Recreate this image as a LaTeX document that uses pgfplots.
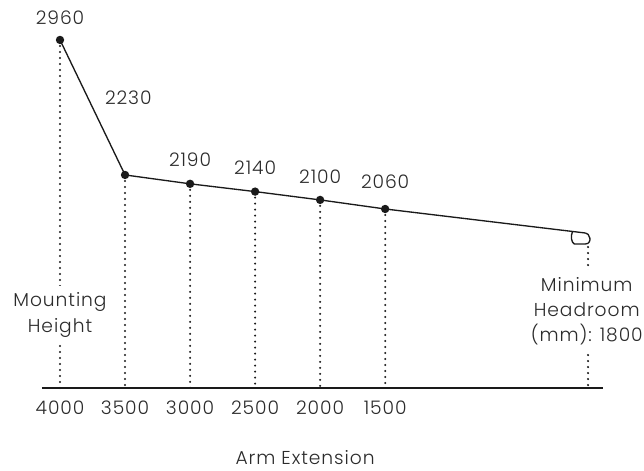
\documentclass[border=0pt]{standalone}
\usepackage{fontspec}
\setmainfont{Poppins}[UprightFont=* Light, LetterSpace=5]
\usepackage{pgfplots}
\pgfplotsset{compat=1.18}

\definecolor{ink}{HTML}{1A1A1A}
\definecolor{txt}{HTML}{2B2B2B}

% small lamp shape at the end of the arm
\pgfdeclareplotmark{lamp}{%
  \pgfpathmoveto{\pgfpoint{-9.75pt}{1.1pt}}%
  \pgfpathcurveto{\pgfpoint{-11.25pt}{-2.25pt}}{\pgfpoint{-10.5pt}{-7.5pt}}{\pgfpoint{-8.25pt}{-8.25pt}}%
  \pgfpathlineto{\pgfpoint{0pt}{-8.25pt}}%
  \pgfpathcurveto{\pgfpoint{3pt}{-8.25pt}}{\pgfpoint{3.75pt}{-5.25pt}}{\pgfpoint{3.3pt}{-3.75pt}}%
  \pgfpathcurveto{\pgfpoint{2.7pt}{-1.5pt}}{\pgfpoint{1.5pt}{0pt}}{\pgfpoint{0pt}{0pt}}%
  \pgfusepathqstroke}

\tikzset{
  drop/.style={ink, line width=1.7pt, line cap=round, dash pattern=on 0pt off 4.5pt},
  val/.style={text=txt, font=\fontsize{14}{19}\selectfont, inner sep=1pt},
}

\begin{document}
\begin{tikzpicture}
\begin{axis}[
  scale only axis,
  width=420.75pt, height=291pt,
  xmin=-0.277, xmax=8.35,
  ymin=1078, ymax=3176,
  axis x line*=bottom,
  axis y line=none,
  x axis line style={ink, line width=1pt, -},
  xtick={0,1,2,3,4,5},
  xticklabels={4000,3500,3000,2500,2000,1500},
  major tick length=0pt,
  /pgf/number format/assume math mode=true,
  xticklabel style={text=txt, font=\fontsize{14}{19}\selectfont, anchor=center, yshift=-15pt},
  xlabel={Arm Extension},
  xlabel style={at={(axis description cs:0.469,0)}, anchor=center, yshift=-52.5pt,
    text=txt, font=\fontsize{14}{19}\selectfont},
  clip=false,
]
% dotted drops to the base line
\addplot[drop] coordinates {(0,2960) (0,1078)};
\addplot[drop] coordinates {(1,2230) (1,1078)};
\addplot[drop] coordinates {(2,2182) (2,1078)};
\addplot[drop] coordinates {(3,2140) (3,1078)};
\addplot[drop] coordinates {(4,2095) (4,1078)};
\addplot[drop] coordinates {(5,2046) (5,1078)};
\addplot[drop] coordinates {(8.12,1840) (8.12,1078)};

% arm
\addplot[ink, line width=1pt, mark=lamp, mark indices={2},
  mark options={solid, fill=none, line width=1pt}] coordinates {(5,2046) (8.08,1916)};
\addplot[ink, line width=1pt, mark=*, mark size=2.6pt] coordinates {
  (0,2960) (1,2230) (2,2182) (3,2140) (4,2095) (5,2046)};

\node[val] at (axis cs:0,3079) {2960};
\node[val] at (axis cs:1.05,2646) {2230};
\node[val] at (axis cs:2,2311) {2190};
\node[val] at (axis cs:3,2267) {2140};
\node[val] at (axis cs:4,2219) {2100};
\node[val] at (axis cs:5,2192) {2060};

\node[val, fill=white, align=center, inner sep=5pt] at (axis cs:0,1473) {Mounting\\Height};
\node[val, fill=white, align=center, inner sep=5pt] at (axis cs:8.10,1494) {Minimum\\Headroom\\(mm): 1800};

\coordinate (bl) at (rel axis cs:0,0);
\coordinate (tr) at (rel axis cs:1,1);
\end{axis}
\pgfresetboundingbox
\path[use as bounding box] ([shift={(-31.5pt,-62.25pt)}]bl) rectangle ([shift={(30.75pt,0pt)}]tr);
\end{tikzpicture}
\end{document}
